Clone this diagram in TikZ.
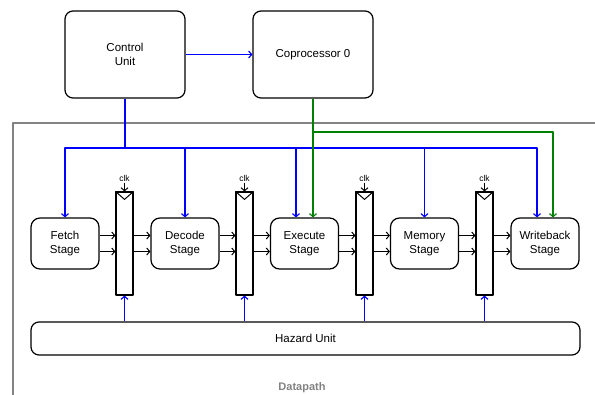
\documentclass[tikz,border=0pt]{standalone}
\usepackage{fontspec}
\setmainfont{Liberation Sans}
\usetikzlibrary{arrows.meta,calc,positioning}
\definecolor{fg}{RGB}{0,0,0}
\definecolor{ctl}{RGB}{0,0,255}
\definecolor{cpz}{RGB}{0,128,0}
\definecolor{mu}{RGB}{130,130,130}
\tikzset{
  every picture/.style={fg, line width=1pt, line join=round, x=1pt, y=-1pt,
    >={Straight Barb[length=3pt,width=7pt]}},
  every node/.style={font=\fontsize{11.5}{13.5}\selectfont},
  % Blöcke
  unit/.style={draw, line width=1.2pt, rounded corners=8pt, align=center,
    minimum width=120pt, minimum height=87pt},
  stage/.style={draw, line width=1.2pt, rounded corners=9pt, align=center,
    minimum width=68pt, minimum height=51pt},
  preg/.style={draw, line width=1.2pt, inner sep=0pt, minimum width=17pt, minimum height=103pt},
  clk/.style={inner sep=1pt, font=\fontsize{8.5}{9}\selectfont},
  % Leitungen
  ctlline/.style={ctl, line width=1.15pt},
  cpline/.style={cpz, line width=1.15pt},
  frame/.style={mu, line width=1.3pt},
}
\begin{document}
\begin{tikzpicture}
  \useasboundingbox (0,0) rectangle (595,395);
  % Rahmen Datapath
  \draw[frame] (13,400) -- (13,123) -- (600,123);
  \node[mu, font=\bfseries\fontsize{11}{13}\selectfont] (dp) at (302,388) {Datapath};
  % Steuerwerk und Coprozessor
  \node[unit] (ctrl) at (125,54.5) {Control\\Unit};
  \node[unit] (cop) at (313,54.5) {Coprocessor 0};
  \draw[ctlline, ->] (ctrl) -- (cop);
  % Pipeline-Stufen
  \node[stage] (fetch) at (65,243.5) {Fetch\\Stage};
  \node[stage] (decode) at (185,243.5) {Decode\\Stage};
  \node[stage] (exec) at (304.5,243.5) {Execute\\Stage};
  \node[stage] (mem) at (424.5,243.5) {Memory\\Stage};
  \node[stage] (wb) at (545,243.5) {Writeback\\Stage};
  % Pipeline-Register mit Takteingang
  \foreach \i/\x in {1/124.5, 2/244.5, 3/364.5, 4/484.5} {
    \node[preg] (r\i) at (\x,243.5) {};
    \draw (r\i.north west) -- ([yshift=-8pt]r\i.north) -- (r\i.north east);
    \node[clk] (c\i) at (\x,178) {clk};
    \draw[->] (c\i) -- (r\i.north);
  }
  % Datenpfade zwischen Stufen und Registern
  \foreach \s/\r/\t in {fetch/r1/decode, decode/r2/exec, exec/r3/mem, mem/r4/wb} {
    \foreach \d in {-8,8} {
      \coordinate (p) at ([yshift=\d pt]\s.east);
      \draw[->] (p) -- (p -| \r.west);
      \draw[->] (p -| \r.east) -- (p -| \t.west);
    }
  }
  % Hazard Unit
  \node[draw, line width=1.2pt, rounded corners=8pt, minimum width=549pt, minimum height=33pt]
    (hazard) at (305.5,338.5) {Hazard Unit};
  \foreach \i in {1,...,4}
    \draw[ctlline, ->] (r\i.south |- hazard.north) -- (r\i.south);
  % Steuerbus
  \coordinate (bus) at (125,148);
  \coordinate (exin) at ([xshift=-8.5pt]exec.north);
  \coordinate (wbin) at ([xshift=-8pt]wb.north);
  \draw[ctlline] (ctrl) -- (bus);
  \draw[ctlline, ->] (bus) -| (fetch.north);
  \draw[ctlline, ->] (bus) -| (wbin);
  \draw[ctlline, ->] (decode.north |- bus) -- (decode.north);
  \draw[ctlline, ->] (exin |- bus) -- (exin);
  \draw[ctlline, ->] (mem.north |- bus) -- (mem.north);
  % Coprozessor-Leitungen
  \coordinate (cpin) at (cop.south |- exec.north);
  \coordinate (cpbus) at (cop.south |- 0,132);
  \coordinate (cpwb) at ([xshift=8pt]wb.north);
  \draw[cpline, ->] (cop.south) -- (cpin);
  \draw[cpline, ->] (cpbus) -| (cpwb);
\end{tikzpicture}
\end{document}
